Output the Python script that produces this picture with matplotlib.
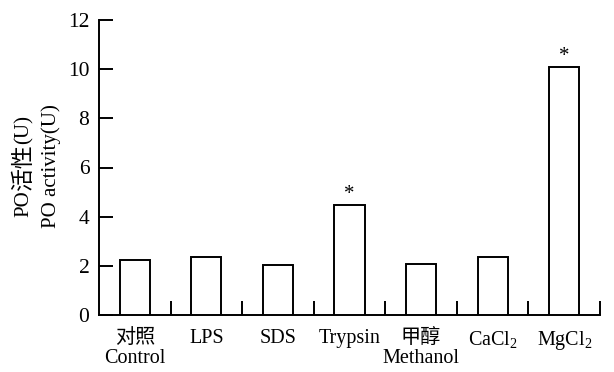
import matplotlib
matplotlib.use("Agg")
import matplotlib.pyplot as plt
import numpy as np

categories = ["对照\nControl", "LPS", "SDS", "Trypsin", "甲醇\nMethanol", "CaCl$_2$", "MgCl$_2$"]
values = [2.24, 2.36, 2.03, 4.47, 2.07, 2.37, 10.09]
significant = [False, False, False, True, False, False, True]
yticks = [0, 2, 4, 6, 8, 10, 12]
ylabel_cn = ["PO", "活性", "(U)"]
ylabel_en = "PO activity(U)"

plt.rcParams['font.family'] = ['Liberation Serif', 'Noto Sans CJK SC']
plt.rcParams['mathtext.fontset'] = 'custom'
plt.rcParams['mathtext.rm'] = 'Liberation Serif'
plt.rcParams['mathtext.it'] = 'Liberation Serif:italic'

fig = plt.figure(figsize=(6.14, 3.72), dpi=100)
ax = fig.add_axes([99/614, 1-315/372, (600-99)/614, (315-20)/372])

x = np.arange(len(categories))
ax.bar(x, values, width=0.42, facecolor='white', edgecolor='black', linewidth=1.4, zorder=3)
for xi, v, s in zip(x, values, significant):
    if s:
        ax.text(xi, v + 0.42, "*", ha='center', va='center', fontsize=15)

ax.set_xlim(-0.5, len(categories) - 0.5)
ax.set_ylim(0, 12)
ax.set_yticks(yticks)
ax.set_yticklabels([str(t) for t in yticks], fontsize=15.5)
ax.tick_params(axis='y', direction='in', length=10, width=1.4, pad=7)

ax.set_xticks(x)
ax.set_xticklabels(categories, fontsize=14.5, linespacing=1.1)
ax.tick_params(axis='x', which='major', length=0, pad=10)
ax.set_xticks(np.arange(len(categories)) + 0.5, minor=True)
ax.tick_params(axis='x', which='minor', direction='in', length=10, width=1.4)

for s in ['top', 'right']:
    ax.spines[s].set_visible(False)
for s in ['left', 'bottom']:
    ax.spines[s].set_linewidth(1.4)

# y label line 2
fig.text(51/614, 1-166/372, ylabel_en, rotation=90, ha='center', va='center', fontsize=15)

# y label line 1, built from pieces so the CJK part can be a bit larger
renderer = fig.canvas.get_renderer()
sizes = [15, 16.5, 15]
pieces = []
for txt, fs in zip(ylabel_cn, sizes):
    t = fig.text(0, 0, txt, rotation=90, ha='center', va='bottom', fontsize=fs)
    pieces.append(t)
heights = [p.get_window_extent(renderer).height for p in pieces]
total = sum(heights)
y0 = (372 - 166) - total / 2.0
for p, h in zip(pieces, heights):
    p.set_position((24/614, y0/372))
    y0 += h

fig.savefig("out.png", dpi=100)
